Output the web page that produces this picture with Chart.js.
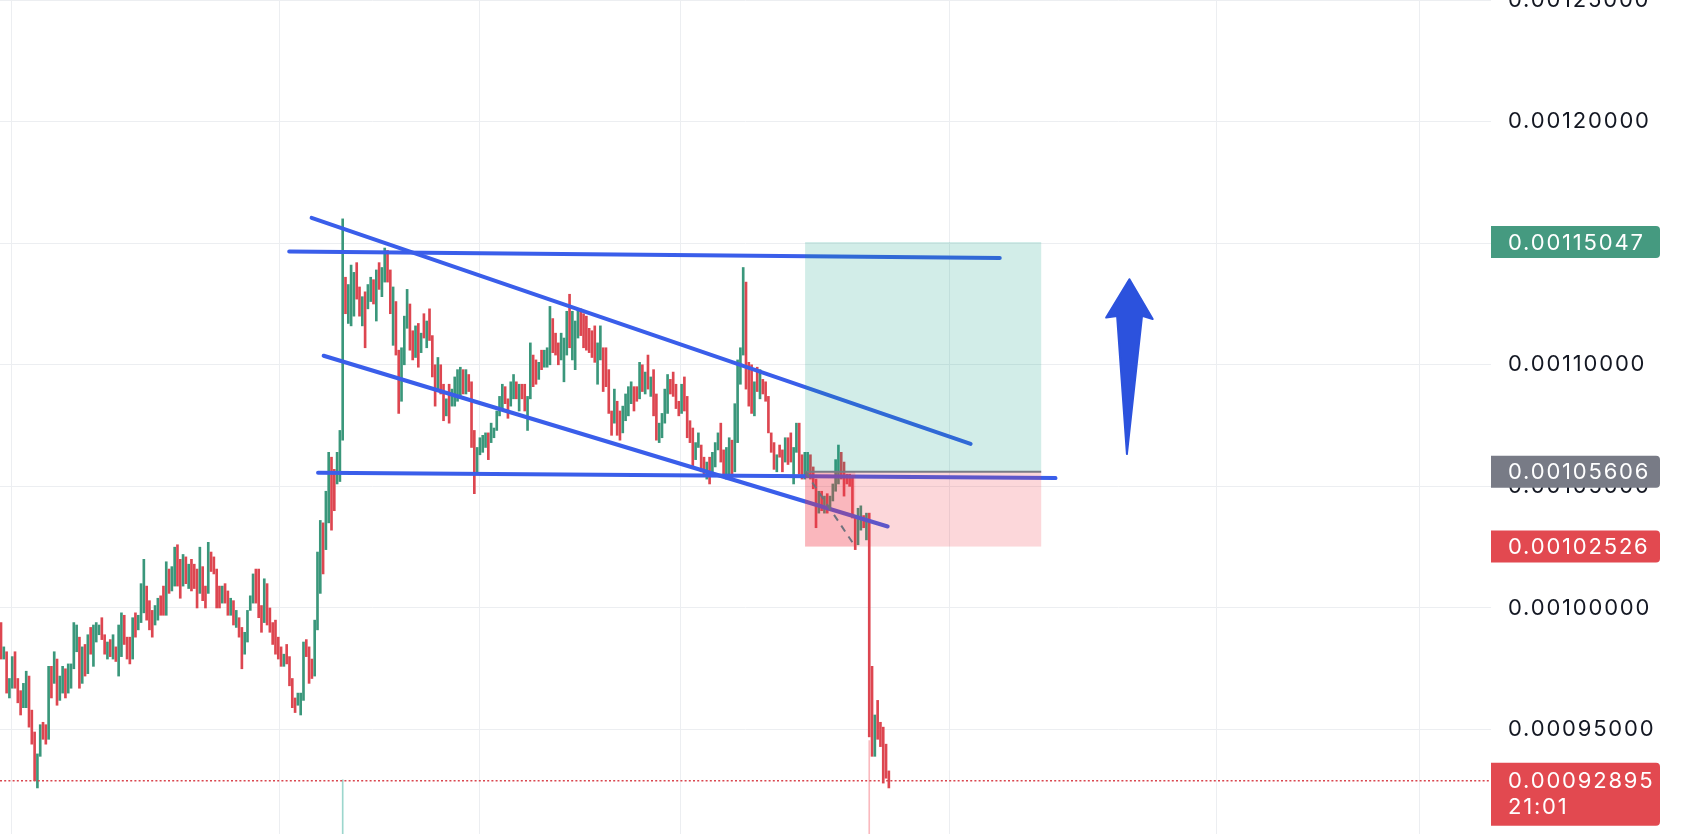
<!DOCTYPE html>
<html>
<head>
<meta charset="utf-8">
<script src="https://cdn.jsdelivr.net/npm/chart.js@4.4.1/dist/chart.umd.min.js"></script>
<style>
  html, body { margin: 0; padding: 0; background: #fff; }
  #wrap { width: 1685px; height: 834px; }
</style>
</head>
<body>
<div id="wrap"><canvas id="priceChart" width="1685" height="834"></canvas></div>
<script>
// prices are kept in millionths (994 = 0.00099400)
const UNIT = 1e-6;

const highs = [
  994,984,982,971,980,982,971,966,969,974,
  972,958,949,940,952,953,952,976,976,982,
  979,972,976,975,977,977,994,993,988,984,
  985,989,992,993,994,993,996,989,986,987,
  989,984,993,998,997,988,988,996,998,997,
  1010,1020,1009,1003,999,1001,1004,1005,1009,1019,
  1016,1017,1025,1026,1020,1022,1021,1018,1020,1018,
  1016,1025,1017,1009,1027,1023,1021,1016,1009,1009,
  1010,1007,1004,1003,999,996,992,990,999,1005,
  1014,1016,1016,1001,1012,1010,1000,994,995,988,
  984,981,985,980,971,963,965,965,986,987,
  984,979,995,1023,1036,1035,1048,1064,1062,1057,
  1064,1073,1160,1136,1133,1141,1138,1142,1132,1128,
  1130,1133,1136,1135,1139,1142,1140,1148,1147,1139,
  1132,1126,1106,1107,1120,1131,1125,1114,1116,1117,
  1113,1121,1118,1123,1112,1100,1103,1100,1092,1086,
  1092,1090,1095,1098,1099,1098,1098,1096,1093,1073,
  1066,1070,1071,1072,1072,1076,1074,1081,1087,1092,
  1091,1086,1093,1096,1093,1092,1092,1092,1087,1109,
  1104,1102,1101,1106,1106,1107,1124,1119,1113,1109,
  1113,1111,1122,1129,1122,1118,1123,1123,1121,1120,
  1115,1114,1116,1109,1116,1107,1107,1098,1081,1090,
  1085,1081,1083,1088,1091,1093,1091,1091,1101,1100,
  1097,1104,1095,1098,1088,1076,1080,1090,1096,1094,
  1097,1092,1085,1092,1095,1087,1077,1074,1068,1072,
  1067,1062,1060,1062,1064,1068,1072,1076,1065,1066,
  1070,1069,1084,1102,1107,1140,1134,1101,1100,1093,
  1099,1098,1094,1093,1087,1072,1068,1063,1067,1065,
  1070,1070,1072,1066,1076,1076,1063,1064,1064,1063,
  1058,1053,1048,1048,1046,1047,1046,1051,1061,1067,
  1064,1060,1055,1055,1054,1038,1041,1042,1038,1039,
  1039,976,956,962,953,951,944,933
];

const lows = [
  979,979,965,963,967,967,961,956,959,959,
  951,944,929,926,939,946,944,946,963,969,
  960,962,965,963,965,967,975,982,967,969,
  972,973,981,976,986,989,987,981,979,980,
  979,978,972,980,985,979,977,979,988,991,
  994,998,995,991,988,993,995,997,997,997,
  1006,1007,1009,1009,1004,1009,1010,1008,1007,1008,
  1000,1006,1003,1000,1006,1015,1014,1000,1000,1002,
  1002,997,997,993,992,988,975,981,986,999,
  1002,1002,996,990,994,993,990,985,981,979,
  976,976,977,968,959,957,960,956,962,980,
  969,971,972,991,1006,1014,1024,1035,1032,1040,
  1051,1052,1069,1121,1117,1116,1120,1127,1120,1116,
  1107,1123,1126,1125,1118,1131,1128,1134,1134,1121,
  1108,1104,1080,1085,1100,1115,1106,1102,1103,1099,
  1105,1111,1107,1110,1095,1083,1089,1088,1077,1079,
  1076,1083,1083,1085,1087,1088,1088,1089,1066,1047,
  1056,1063,1064,1066,1061,1068,1070,1073,1079,1082,
  1084,1078,1083,1086,1086,1081,1086,1081,1073,1086,
  1091,1092,1094,1098,1099,1099,1100,1105,1104,1100,
  1102,1093,1104,1107,1102,1098,1111,1112,1107,1106,
  1105,1103,1101,1092,1102,1089,1091,1080,1071,1076,
  1071,1069,1072,1077,1079,1084,1081,1085,1086,1089,
  1088,1090,1087,1079,1069,1068,1070,1076,1080,1088,
  1087,1082,1079,1080,1081,1070,1068,1058,1061,1066,
  1056,1055,1053,1051,1056,1058,1065,1060,1055,1053,
  1054,1053,1056,1068,1092,1104,1090,1083,1080,1079,
  1089,1086,1088,1085,1072,1064,1057,1056,1062,1056,
  1060,1059,1060,1051,1064,1055,1053,1053,1054,1053,
  1049,1033,1039,1040,1039,1039,1040,1044,1048,1051,
  1053,1046,1051,1050,1037,1024,1026,1032,1033,1028,
  947,939,939,946,943,928,930,926
];

// G = closed up, R = closed down
const dirs = [
  "RGRGGRRRGG","RRRGGRRGRG","RGGRGGGGRG","RGRGGGRRGR","GRGGRRRGRG",
  "GGRRRGGRRG","RGGRRGRGRR","RGRRGRRRRG","RRGRGRRGGG","GRRRGRRRRR",
  "RGRRRRGGGR","RRGGGRGGRR","GGGRGGGRRG","RGGRGRGGRR","GRRGGGRRGR",
  "GRGRRRGRRG","RGGGGRGRRR","GGGGRGGGGG","RRGGRGRRGG","RRGRGGGRRR",
  "GGGRGGGRRR","RRRGGRRRRG","RRGGGGRRGR","GRGRRGGGGR","RRRGRRRRGG",
  "RRGRGGGRRG","GRGGGGRRRG","RGRRRRRGRR","GRRGGRRGGR","RRGRGRGGGG",
  "RRRRRRGGRG","RRGRRRRR"
].join("");

const volIdx = [123, 311];
const volumes = [6.5, 11.2];

const yTicks = [950, 1000, 1050, 1100, 1150, 1200, 1250];
const xGrid = [4.8, 100.3, 171.8, 243.7, 339.7, 435.1, 507.3];

const lastPrice = 928.95;
const countdown = "21:01";

// drawings in (bar index, price) coordinates
const trendLines = [
  [103.9, 1146.6, 357.6, 1143.9],
  [111.9, 1160.4, 347.2, 1067.5],
  [116.2, 1103.7, 317.6, 1033.5],
  [114.2, 1055.6, 377.5, 1053.4]
];
const position = { from: 288.1, to: 372.4, hit: 306.0, entry: 1056.06, target: 1150.47, stop: 1025.26 };
const arrowPts = [[403.9, 1135.2], [412.2, 1118.8], [408.4, 1120.1], [403.0, 1063.3], [399.5, 1120.1], [395.6, 1119.4]];

const UP = '#3a977b';
const DOWN = '#dd4650';
const GRID = '#eceef1';
const LINE_BLUE = 'rgb(58,94,234)';
const FONT = '22px Inter';
const SPACING = '1.8px';

const overlay = {
  id: 'overlay',
  beforeDraw(chart) {
    chart.ctx.letterSpacing = SPACING;
  },
  afterDatasetsDraw(chart) {
    const { ctx, chartArea: area, scales: { x, y } } = chart;
    const px = i => x.getPixelForValue(i);
    const py = v => y.getPixelForValue(v * UNIT);
    ctx.save();

    // trend lines
    ctx.strokeStyle = LINE_BLUE;
    ctx.lineWidth = 4;
    ctx.lineCap = 'round';
    trendLines.forEach(([i1, v1, i2, v2]) => {
      ctx.beginPath();
      ctx.moveTo(px(i1), py(v1));
      ctx.lineTo(px(i2), py(v2));
      ctx.stroke();
    });

    // long position tool
    const l = px(position.from), r = px(position.to), hit = px(position.hit);
    const yT = py(position.target), yE = py(position.entry), yS = py(position.stop);
    ctx.fillStyle = 'rgba(8,153,129,0.18)';
    ctx.fillRect(l, yT, r - l, yE - yT);
    ctx.fillStyle = 'rgba(242,54,69,0.2)';
    ctx.fillRect(l, yE, r - l, yS - yE);
    ctx.fillRect(l, yE, hit - l, yS - yE);
    ctx.strokeStyle = '#787b86';
    ctx.lineCap = 'butt';
    ctx.lineWidth = 2;
    ctx.beginPath();
    ctx.moveTo(l, yE);
    ctx.lineTo(r, yE);
    ctx.stroke();
    ctx.strokeStyle = '#6f727d';
    ctx.setLineDash([7, 6]);
    ctx.beginPath();
    ctx.moveTo(l, yE);
    ctx.lineTo(hit, yS);
    ctx.stroke();
    ctx.setLineDash([]);

    // arrow
    ctx.fillStyle = 'rgb(44,82,221)';
    ctx.strokeStyle = 'rgb(44,82,221)';
    ctx.lineJoin = 'round';
    ctx.lineWidth = 2;
    ctx.beginPath();
    arrowPts.forEach(([i, v], k) => k ? ctx.lineTo(px(i), py(v)) : ctx.moveTo(px(i), py(v)));
    ctx.closePath();
    ctx.fill();
    ctx.stroke();

    // last price line
    ctx.strokeStyle = '#d9464f';
    ctx.lineWidth = 1.5;
    ctx.setLineDash([2, 2.2]);
    ctx.beginPath();
    ctx.moveTo(area.left, py(lastPrice));
    ctx.lineTo(area.right, py(lastPrice));
    ctx.stroke();
    ctx.restore();
  },
  afterDraw(chart) {
    const { ctx, chartArea: area, scales: { y } } = chart;
    const py = v => y.getPixelForValue(v * UNIT);
    const tags = [
      { v: position.target, color: 'rgb(69,154,128)', lines: [] },
      { v: position.entry, color: 'rgb(120,123,134)', lines: [] },
      { v: position.stop, color: 'rgb(226,73,80)', lines: [] },
      { v: lastPrice, color: 'rgb(226,73,80)', lines: [countdown] }
    ];
    ctx.save();
    ctx.font = FONT;
    ctx.letterSpacing = SPACING;
    ctx.textBaseline = 'middle';
    ctx.textAlign = 'left';
    tags.forEach(t => {
      const cy = py(t.v);
      const h = t.lines.length ? 63 : 32;
      const top = t.lines.length ? cy - 18 : cy - 16;
      ctx.fillStyle = t.color;
      ctx.beginPath();
      ctx.roundRect(area.right, top, 169, h, [0, 4, 4, 0]);
      ctx.fill();
      ctx.fillStyle = '#ffffff';
      ctx.fillText((t.v * UNIT).toFixed(8), area.right + 17, cy + 1);
      t.lines.forEach((s, k) => ctx.fillText(s, area.right + 17, cy + 27 * (k + 1)));
    });
    ctx.restore();
  }
};

const candleData = highs.map((h, k) => ({ x: k + 1, y: [lows[k] * UNIT, h * UNIT] }));
const candleColors = highs.map((h, k) => dirs[k] === 'G' ? UP : DOWN);
const volData = volIdx.map((i, k) => ({ x: i, y: volumes[k] }));
const volColors = volIdx.map(i => dirs[i - 1] === 'G' ? 'rgba(8,153,129,0.4)' : 'rgba(242,54,69,0.35)');

const ctx = document.getElementById('priceChart').getContext('2d');
const priceChart = new Chart(ctx, {
  type: 'bar',
  data: {
    datasets: [{
      data: candleData,
      backgroundColor: candleColors,
      barThickness: 2,
      grouped: false,
      yAxisID: 'y'
    }, {
      data: volData,
      backgroundColor: volColors,
      barThickness: 1,
      grouped: false,
      yAxisID: 'vol'
    }]
  },
  options: {
    responsive: false,
    animation: false,
    devicePixelRatio: 1,
    layout: { padding: 0 },
    plugins: { legend: { display: false }, tooltip: { enabled: false } },
    scales: {
      x: {
        type: 'linear',
        min: 0.64,
        max: 533,
        offset: false,
        grid: { color: GRID, offset: false, drawTicks: false },
        border: { display: false },
        ticks: { display: false },
        afterBuildTicks: s => { s.ticks = xGrid.map(v => ({ value: v })); }
      },
      y: {
        position: 'right',
        min: 907.06 * UNIT,
        max: 1250 * UNIT,
        grid: { color: GRID, drawTicks: false },
        border: { display: false },
        ticks: {
          padding: 17,
          color: '#131722',
          font: { family: 'Inter', size: 22 },
          callback: v => v.toFixed(8)
        },
        afterBuildTicks: s => { s.ticks = yTicks.map(v => ({ value: v * UNIT })); },
        afterFit: s => { s.width = 194; s.paddingTop = 0; s.paddingBottom = 0; }
      },
      vol: { display: false, min: 0, max: 100 }
    }
  },
  plugins: [overlay]
});
</script>
</body>
</html>
